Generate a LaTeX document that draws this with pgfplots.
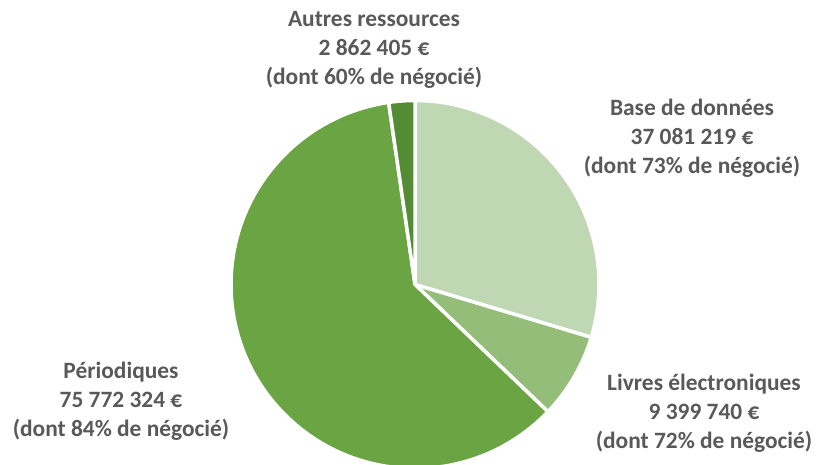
\documentclass[border=0pt]{standalone}
\usepackage{pgfplots}
\usepackage{pgfplotstable}
\pgfplotsset{compat=1.18}
\usepackage{fontspec}
\setmainfont{Carlito}

\definecolor{bdcol}{HTML}{C0D7B3}
\definecolor{lvcol}{HTML}{94BD7A}
\definecolor{pecol}{HTML}{6AA443}
\definecolor{aucol}{HTML}{548C36}
\definecolor{txt}{HTML}{595959}

% montants en millions d'euros
\pgfplotstableread{
value col
37.081219 bdcol
9.399740 lvcol
75.772324 pecol
2.862405 aucol
}\piedata

\tikzset{lbl/.style={anchor=base, inner sep=0pt, text=txt,
  font=\fontsize{23.5}{29}\selectfont\bfseries}}
\newcommand{\lbl}[5]{%
  \node[lbl] at (axis cs:#1,#2) {#3};
  \node[lbl] at (axis cs:#1,#2+29) {#4};
  \node[lbl] at (axis cs:#1,#2+58) {#5};
}

\begin{document}
\begin{tikzpicture}
% angles des secteurs
\def\total{0}
\pgfplotsforeachungrouped \i in {0,...,3}{%
  \pgfplotstablegetelem{\i}{value}\of\piedata
  \pgfmathsetmacro\total{\total+\pgfplotsretval}%
}
\gdef\slices{}
\def\cum{0}
\pgfplotsforeachungrouped \i in {0,...,3}{%
  \pgfplotstablegetelem{\i}{value}\of\piedata \let\sv\pgfplotsretval
  \pgfplotstablegetelem{\i}{col}\of\piedata \let\scol\pgfplotsretval
  \pgfmathsetmacro\aS{90-360*(\cum/\total)}%
  \pgfmathsetmacro\cum{\cum+\sv}%
  \pgfmathsetmacro\aE{90-360*(\cum/\total)}%
  \xdef\slices{\unexpanded\expandafter{\slices}%
    \noexpand\fill[\scol, draw=white, line width=3.5bp, line join=round]
      (axis cs:415,284.5) -- ++(\aS:184bp)
      arc[start angle=\aS, end angle=\aE, radius=184bp] -- cycle;}%
}
\begin{axis}[
  scale only axis,
  width=816bp, height=465bp,
  xmin=0, xmax=816, ymin=0, ymax=465,
  y dir=reverse,
  hide axis,
]
\slices
\lbl{374}{27}{Autres ressources}{2 862 405 €}{(dont 60\% de négocié)}
\lbl{692}{115}{Base de données}{37 081 219 €}{(dont 73\% de négocié)}
\lbl{704}{390}{Livres électroniques}{9 399 740 €}{(dont 72\% de négocié)}
\lbl{121}{378}{Périodiques}{75 772 324 €}{(dont 84\% de négocié)}
\end{axis}
\pgfresetboundingbox
\path (current axis.south west) rectangle (current axis.north east);
\end{tikzpicture}
\end{document}
